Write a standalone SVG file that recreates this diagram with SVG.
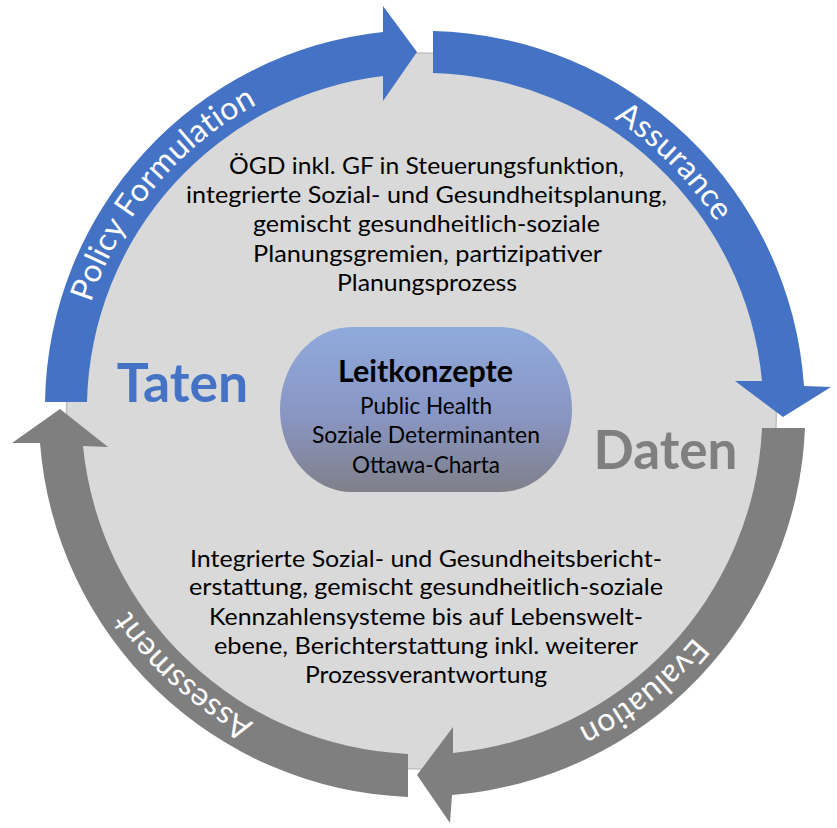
<svg xmlns="http://www.w3.org/2000/svg" xmlns:xlink="http://www.w3.org/1999/xlink" width="837" height="828" viewBox="0 0 837 828">
<defs>
<style>
.body{font-family:Lato,"Liberation Sans",sans-serif;font-size:23px;fill:#000;text-anchor:middle}
.arcl{font-family:Lato,"Liberation Sans",sans-serif;font-size:32px;fill:#fff;text-anchor:middle;letter-spacing:0.3px}
.big{font-family:Lato,"Liberation Sans",sans-serif;font-weight:bold;text-anchor:middle}
.blue{fill:#4472C4}
.grey{fill:#7F7F7F}
</style>
<linearGradient id="capg" x1="0" y1="0" x2="0" y2="1">
<stop offset="0" stop-color="#8FAADC"/>
<stop offset="0.55" stop-color="#8995C2"/>
<stop offset="1" stop-color="#80808A"/>
</linearGradient>
<path id="pPolicy" d="M 73.5 411 A 348 348 0 0 1 361.07 68.29"/>
<path id="pAssur" d="M 454.44 62.55 A 350 350 0 0 1 770.37 382.93"/>
<path id="pEval" d="M 768.14 482.79 A 354 354 0 0 1 411.0 764.84"/>
<path id="pAssess" d="M 409.15 764.78 A 354 354 0 0 1 70.95 460.27"/>
</defs>
<rect width="837" height="828" fill="#fff"/>
<g id="disc">
<ellipse cx="421.5" cy="411" rx="355" ry="358" fill="#D9D9D9" stroke="#BFBFBF" stroke-width="1.5"/>
</g>
<g id="connectors">
<g id="arrow-policy">
<path class="blue" d="M 45 402 A 378 378 0 0 1 383 32 L 383 6 L 417 52 L 383 101 L 383 76 A 336 336 0 0 0 87 402 Z"/>
<text class="arcl"><textPath xlink:href="#pPolicy" href="#pPolicy" startOffset="50%">Policy Formulation</textPath></text>
</g>
<g id="arrow-assurance">
<path class="blue" d="M 433 31 A 381 381 0 0 1 804 386 L 831 387 L 783 417 L 735 381 L 762 381 A 340 340 0 0 0 433 73 Z"/>
<text class="arcl"><textPath xlink:href="#pAssur" href="#pAssur" startOffset="50%">Assurance</textPath></text>
</g>
<g id="arrow-evaluation">
<path class="grey" d="M 805 428 A 384 384 0 0 1 452 795 L 450 823 L 417 775 L 453 727 L 453 753 A 342 342 0 0 0 762 428 Z"/>
<text class="arcl"><textPath xlink:href="#pEval" href="#pEval" startOffset="50%">Evaluation</textPath></text>
</g>
<g id="arrow-assessment">
<path class="grey" d="M 408 797 A 384 384 0 0 1 40 443 L 12 443 L 60 409 L 108 447 L 83 446 A 342 342 0 0 0 408 754 Z"/>
<text class="arcl"><textPath xlink:href="#pAssess" href="#pAssess" startOffset="50%">Assessment</textPath></text>
</g>
</g>
<g id="policy-text">
<text class="body" x="426.5" y="174" textLength="395" lengthAdjust="spacingAndGlyphs">ÖGD inkl. GF in Steuerungsfunktion,</text>
<text class="body" x="426.5" y="203" textLength="481" lengthAdjust="spacingAndGlyphs">integrierte Sozial- und Gesundheitsplanung,</text>
<text class="body" x="426.5" y="232" textLength="347" lengthAdjust="spacingAndGlyphs">gemischt gesundheitlich-soziale</text>
<text class="body" x="427.5" y="262" textLength="349" lengthAdjust="spacingAndGlyphs">Planungsgremien, partizipativer</text>
<text class="body" x="427" y="291" textLength="180" lengthAdjust="spacingAndGlyphs">Planungsprozess</text>
</g>
<g id="data-text">
<text class="body" x="426" y="567" textLength="472" lengthAdjust="spacingAndGlyphs">Integrierte Sozial- und Gesundheitsbericht-</text>
<text class="body" x="426" y="595" textLength="474" lengthAdjust="spacingAndGlyphs">erstattung, gemischt gesundheitlich-soziale</text>
<text class="body" x="426" y="625" textLength="434" lengthAdjust="spacingAndGlyphs">Kennzahlensysteme bis auf Lebenswelt-</text>
<text class="body" x="426" y="654" textLength="424" lengthAdjust="spacingAndGlyphs">ebene, Berichterstattung inkl. weiterer</text>
<text class="body" x="426" y="683" textLength="242" lengthAdjust="spacingAndGlyphs">Prozessverantwortung</text>
</g>
<g id="taten">
<text class="big blue" x="182.5" y="402" font-size="53.5">Taten</text>
</g>
<g id="daten">
<text class="big grey" x="665.5" y="469" font-size="53">Daten</text>
</g>
<g id="leitkonzepte">
<rect x="280" y="327" width="292" height="165" rx="72" ry="82.5" fill="url(#capg)"/>
<text class="big" x="425.5" y="382" font-size="30" fill="#000" textLength="175" lengthAdjust="spacingAndGlyphs">Leitkonzepte</text>
<text class="body" x="426" y="414" textLength="132" lengthAdjust="spacingAndGlyphs">Public Health</text>
<text class="body" x="426" y="443" textLength="228" lengthAdjust="spacingAndGlyphs">Soziale Determinanten</text>
<text class="body" x="426" y="473" textLength="148" lengthAdjust="spacingAndGlyphs">Ottawa-Charta</text>
</g>
</svg>
